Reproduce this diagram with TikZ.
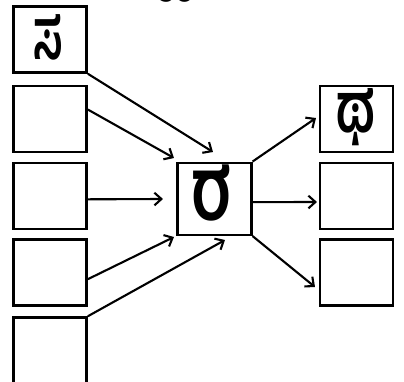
\documentclass[tikz,border=0pt]{standalone}
\usepackage{fontspec}
\newfontfamily\kannada[Script=Kannada]{Hind Mysuru}
\usetikzlibrary{arrows.meta}

% size, narrowing, letter
\def\kn#1#2#3{{\fontsize{#1}{#1}\selectfont\scalebox{#2}[1]{#3}}}

\begin{document}
\begin{tikzpicture}[x=0.025cm,y=-0.025cm,
    cell/.style={draw,line width=1.8pt,minimum width=1.83cm,minimum height=1.65cm,inner sep=0pt},
    glyph/.style={inner sep=0pt,font=\kannada\bfseries},
    link/.style={line width=1.5pt,-{Straight Barb[length=5pt,width=9pt]}}]
    \useasboundingbox (0,0) rectangle (404,382);
    \clip (0,0) rectangle (404,382);

    % cut-off glyph above the picture
    \node[glyph] (top) at (175,-25) {\kn{59}{0.7}{ಪ}};

    % input column
    \node[cell] (in1) at (50,39.5) {};
    \node[cell] (in2) at (50,119) {};
    \node[cell] (in3) at (50,196) {};
    \node[cell] (in4) at (50,272.5) {};
    \node[cell] (in5) at (50,350.5) {};

    % unit
    \node[cell,minimum width=1.85cm,minimum height=1.8cm] (unit) at (214.3,198.8) {};

    % output column
    \node[cell] (out1) at (356.5,119) {};
    \node[cell] (out2) at (356.5,196) {};
    \node[cell] (out3) at (356.5,272.5) {};

    % letters
    \node[glyph] (sa) at (48,37) {\kn{50}{0.6}{ಸ}};
    \node[glyph] (ra) at (212,193) {\kn{62}{0.75}{ರ}};
    \node[glyph] (tha) at (356,117) {\kn{49}{0.72}{ಥ}};

    % arrow tips
    \coordinate (t1) at (213,152);
    \coordinate (t2) at (174,158);
    \coordinate (t3) at (163,199);
    \coordinate (t4) at (174,237);
    \coordinate (t5) at (225,240);
    \coordinate (u1) at (316,118);
    \coordinate (u2) at (317,202);
    \coordinate (u3) at (315,287);

    \draw[link] (in1.south east) -- (t1);
    \draw[link] (in2.14) -- (t2);
    \draw[link] (in3.-5) -- (t3);
    \draw[link] (in4.-10) -- (t4);
    \draw[link] (in5.north east) -- (t5);

    \draw[link] (unit.north east) -- (u1);
    \draw[link] (unit.-5) -- (u2);
    \draw[link] (unit.south east) -- (u3);

  \end{tikzpicture}
\end{document}
